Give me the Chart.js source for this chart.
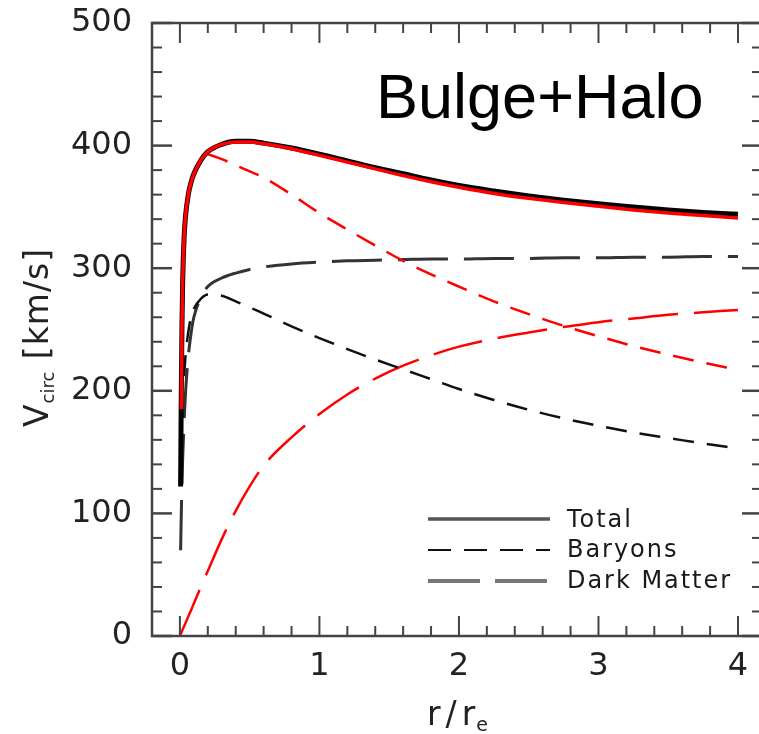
<!DOCTYPE html>
<html><head><meta charset="utf-8">
<script src="https://cdn.jsdelivr.net/npm/chart.js@4.4.0/dist/chart.umd.min.js"></script>
<style>
html,body{margin:0;padding:0;background:#fff;overflow:hidden;width:759px;height:734px}
#wrap{width:759px;height:734px;overflow:hidden;position:relative}
canvas{display:block}
</style></head><body>
<div id="wrap"><canvas id="c" width="765" height="734"></canvas></div>
<script>
// r / r_e sample positions
const rGrid = [0, 0.005, 0.01, 0.015, 0.02, 0.03, 0.04, 0.06, 0.08, 0.1, 0.15, 0.2, 0.3, 0.4, 0.5, 0.6, 0.8, 1.0, 1.2, 1.4, 1.6, 1.8, 2.0, 2.25, 2.5, 2.75, 3.0, 3.25, 3.5, 3.75, 4.0];
// V_circ [km/s]
const totalBlack   = [null, 122, 200, 255, 290, 325, 342, 360, 370, 377, 388, 395, 401, 403.5, 403.5, 402, 398, 393, 387.5, 382, 377, 372, 367.5, 363, 359, 355.5, 352.5, 350, 347.5, 345.5, 344];
const totalRed     = [null, null, 185, 255, 290, 325, 342, 360, 370, 377, 388, 395, 401, 403, 403, 401.5, 397.5, 392, 386.5, 381, 375.5, 370.5, 366, 361, 357, 353.5, 350.5, 347.5, 345, 343, 341];
const baryonsBlack = [null, null, null, null, null, 212, 228, 248, 260, 267, 275, 278.5, 277.5, 273, 268, 263, 252.5, 243, 234, 225.5, 217.5, 209.5, 201.5, 192.5, 184.5, 177.5, 171.5, 166, 161.5, 157, 153];
const baryonsRed   = [null, null, null, null, null, null, null, null, null, null, null, 393, 389, 384, 379, 374, 360, 345, 331.5, 318.5, 306, 295, 285, 273, 262.5, 253, 244.5, 236.5, 229.5, 223, 217];
const darkBlack    = [null, 70, 100, 125, 145, 175, 198, 228, 247, 260, 276, 285, 292, 296, 299, 301, 303.5, 305, 306, 306.5, 307, 307.5, 307.5, 308, 308, 308.5, 308.5, 309, 309, 309.5, 309.5];
const darkRed      = [0, 1.3, 2.6, 4, 5.3, 8, 10.5, 16, 21, 26.5, 40, 53, 79, 102, 122, 139, 162, 181, 197, 210, 220.5, 229, 236, 242.5, 247.5, 252, 256, 259, 262, 264, 266];

const xTickLabels = [0, 1, 2, 3, 4];
const yTickLabels = [0, 100, 200, 300, 400, 500];
const legendLabels = ['Total', 'Baryons', 'Dark Matter'];
const panelTitle = 'Bulge+Halo';

function pts(arr){ return rGrid.map((r,i)=>({x:r, y:arr[i]})).filter(p=>p.y!==null); }
function ds(label, arr, color, width, dash){
  return {label, data: pts(arr), borderColor: color, borderWidth: width, borderDash: dash,
    pointRadius: 0, fill: false, cubicInterpolationMode: 'monotone', borderCapStyle: 'butt', borderJoinStyle: 'round'};
}
const SHORT = [21, 13], LONG = [50, 16];

const deco = {
  id: 'deco',
  afterDraw(chart){
    const {ctx, chartArea: a, scales: {x, y}} = chart;
    ctx.save();
    const seg = (x1,y1,x2,y2)=>{ctx.beginPath(); ctx.moveTo(x1,y1); ctx.lineTo(x2,y2); ctx.stroke();};
    // ticks (inward, all sides)
    ctx.strokeStyle = '#444'; ctx.lineWidth = 2;
    for (let k=-1; k<=21; k++){
      const px = x.getPixelForValue(k*0.2);
      if (px < a.left+1 || px > a.right-1) continue;
      const L = (k%5===0) ? 20 : 10;
      seg(px, a.bottom, px, a.bottom-L);
      seg(px, a.top, px, a.top+L);
    }
    for (let k=0; k<=25; k++){
      const py = y.getPixelForValue(k*20);
      const L = (k%5===0) ? 20 : 10;
      ctx.lineWidth = (k%5===0) ? 2.5 : 2;
      seg(a.left, py, a.left+L, py);
      seg(a.right, py, a.right-L, py);
    }
    // frame
    ctx.lineWidth = 2.5; ctx.strokeStyle = '#444';
    ctx.strokeRect(a.left, a.top, a.right-a.left, a.bottom-a.top);

    // y tick labels
    ctx.fillStyle = '#222';
    ctx.font = '32px "DejaVu Sans", sans-serif';
    ctx.textAlign = 'right'; ctx.textBaseline = 'middle';
    yTickLabels.forEach(v => ctx.fillText(String(v), a.left - 20, y.getPixelForValue(v)));

    // panel title
    ctx.fillStyle = '#000';
    ctx.font = '63px "Liberation Sans", Arial, sans-serif';
    ctx.textAlign = 'left'; ctx.textBaseline = 'alphabetic';
    ctx.fillText(panelTitle, 376, 118);

    // legend
    const lx1 = 428, lx2 = 550, tx = 567;
    const rows = [
      {label: legendLabels[0], y: 519, base: 527, color: '#555', w: 3.5, dash: []},
      {label: legendLabels[1], y: 550, base: 557, color: '#111', w: 2,   dash: [23, 13]},
      {label: legendLabels[2], y: 581, base: 588, color: '#777', w: 4,   dash: [52, 15]},
    ];
    ctx.font = '24px "DejaVu Sans", sans-serif';
    const natural = ctx.measureText(legendLabels[2]).width;
    const sp = Math.max(0, (165 - natural) / legendLabels[2].length);
    rows.forEach(r=>{
      ctx.strokeStyle = r.color; ctx.lineWidth = r.w; ctx.setLineDash(r.dash);
      seg(lx1, r.y, lx2, r.y);
      ctx.setLineDash([]);
      ctx.fillStyle = '#1a1a1a';
      ctx.letterSpacing = sp + 'px';
      ctx.fillText(r.label, tx, r.base);
    });
    ctx.letterSpacing = '0px';

    // y axis title: V_circ [km/s]
    ctx.save();
    ctx.translate(48, 427);
    ctx.rotate(-Math.PI/2);
    ctx.fillStyle = '#222';
    ctx.font = '33px "DejaVu Sans", sans-serif';
    ctx.fillText('V', 0, 0);
    const wV = ctx.measureText('V').width;
    ctx.font = '18px "DejaVu Sans", sans-serif';
    ctx.fillText('circ', wV + 1, 6);
    const wc = ctx.measureText('circ').width;
    ctx.font = '33px "DejaVu Sans", sans-serif';
    ctx.letterSpacing = '1px';
    ctx.fillText(' [km/s]', wV + wc + 2, 0);
    ctx.letterSpacing = '0px';
    ctx.restore();

    // x axis title: r/r_e
    ctx.fillStyle = '#222';
    ctx.font = '33px "DejaVu Sans", sans-serif';
    ctx.letterSpacing = '5px';
    ctx.fillText('r/r', 427, 725);
    const wr = ctx.measureText('r/r').width;
    ctx.letterSpacing = '0px';
    ctx.font = '19px "DejaVu Sans", sans-serif';
    ctx.fillText('e', 427 + wr - 4, 731);
    ctx.restore();
  }
};

const tickFont = {family: '"DejaVu Sans", sans-serif', size: 32};
new Chart(document.getElementById('c'), {
  type: 'line',
  data: {
    datasets: [
      ds('Total (bulge+halo, red)', totalRed, '#ff0000', 3.5, []),
      ds('Total', totalBlack, '#000000', 5, []),
      ds('Baryons (red)', baryonsRed, '#ff0000', 2.5, SHORT),
      ds('Baryons', baryonsBlack, '#111111', 2.5, SHORT),
      ds('Dark Matter (red)', darkRed, '#ff0000', 2.5, LONG),
      ds('Dark Matter', darkBlack, '#333333', 3, LONG),
    ]
  },
  options: {
    responsive: false,
    animation: false,
    devicePixelRatio: 1,
    layout: {padding: {top: 23, right: 3, bottom: 0, left: 0}},
    plugins: {legend: {display: false}, tooltip: {enabled: false}},
    scales: {
      x: {
        type: 'linear', min: -0.2, max: 4.172,
        afterBuildTicks: s => { s.ticks = xTickLabels.map(v => ({value: v})); },
        afterFit: s => { s.height = 98; },
        grid: {display: false, drawTicks: false},
        border: {display: false},
        ticks: {padding: 11, color: '#222', font: tickFont, maxRotation: 0, autoSkip: false}
      },
      y: {
        type: 'linear', min: 0, max: 500,
        afterBuildTicks: s => { s.ticks = yTickLabels.map(v => ({value: v})); },
        afterFit: s => { s.width = 152; },
        grid: {display: false, drawTicks: false},
        border: {display: false},
        ticks: {display: false}
      }
    }
  },
  plugins: [deco]
});
</script>
</body></html>
